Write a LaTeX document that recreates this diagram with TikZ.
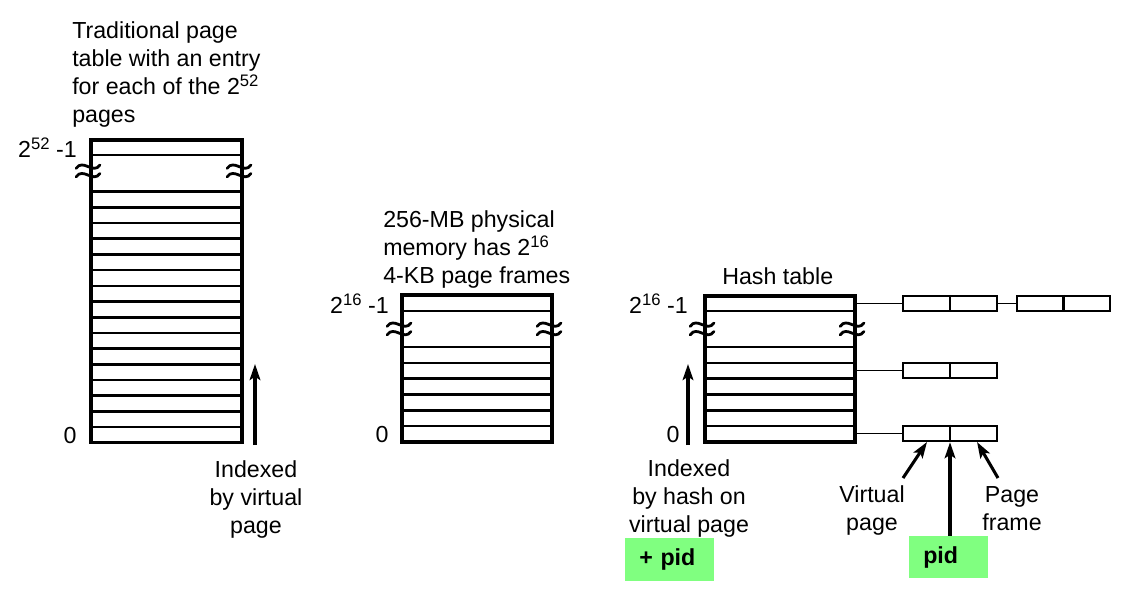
\documentclass[tikz,border=0pt]{standalone}
\usepackage{fontspec}
\setmainfont{Liberation Sans}
\usetikzlibrary{arrows.meta}
\definecolor{pidgreen}{RGB}{128,255,128}
\newcommand\mysup[1]{\raisebox{0.33em}{\fontsize{12.5}{12.5}\selectfont #1}}
\tikzset{
  tbl/.style={line width=2.4pt},
  rowline/.style={line width=2pt},
  cell/.style={draw, line width=1.8pt, inner sep=0pt, minimum height=11.25pt},
  cellline/.style={line width=1.8pt},
  link/.style={line width=1.4pt},
  uparrow/.style={line width=2.3pt, -{Stealth[length=12pt,width=8pt,inset=2.5pt]}},
  lbl/.style={inner sep=0pt, align=left, anchor=base west},
  clbl/.style={inner sep=0pt, align=center, anchor=base},
  idx/.style={inner sep=0pt, anchor=base east},
  zero/.style={inner sep=0pt, anchor=base},
  greenbox/.style={fill=pidgreen, inner ysep=0pt, inner xsep=10.5pt, align=left, anchor=west, font=\fontsize{17.4}{21}\selectfont\bfseries},
  brk/.pic={
    \draw[line width=2.1pt, line cap=round] (-12,-2.5) .. controls (-5,-13) and (5,4) .. (12,-6);
    \draw[line width=2.1pt, line cap=round] (-12,6) .. controls (-5,-4.5) and (5,12.5) .. (12,2.5);
  }
}
\begin{document}
\begin{tikzpicture}[x=0.75pt, y=-0.75pt, font=\fontsize{17.4}{21}\selectfont]
\useasboundingbox (0,0) rectangle (1137,604);

% ---------- traditional page table ----------
\draw[tbl] (91,140) rectangle (242,442.7);
\draw[rowline] (91,155) -- (242,155);
\foreach \i in {0,...,15} \draw[rowline] (91,{191.7+\i*15.69}) -- (242,{191.7+\i*15.69});
\pic at (88,171) {brk};
\pic at (239,171) {brk};
\node[lbl] (t1) at (72,122) {Traditional page\\table with an entry\\for each of the 2\mysup{52}\\pages};
\node[idx] (l1) at (77,157) {2\mysup{52} -1};
\node[zero] (z1) at (70,443) {0};
\coordinate (a1s) at (255,445);
\coordinate (a1e) at (255,364);
\draw[uparrow] (a1s) -- (a1e);
\node[clbl] (t4) at (256,533) {Indexed\\by virtual\\page};

% ---------- physical memory ----------
\draw[tbl] (402,295) rectangle (552,442);
\draw[rowline] (402,311) -- (552,311);
\foreach \i in {0,...,5} \draw[rowline] (402,{347+\i*15.83}) -- (552,{347+\i*15.83});
\pic at (399,329) {brk};
\pic at (549,329) {brk};
\node[lbl] (t2) at (383,283) {256-MB physical\\memory has 2\mysup{16}\\4-KB page frames};
\node[idx] (l2) at (389,313) {2\mysup{16} -1};
\node[zero] (z2) at (382,442) {0};

% ---------- hash table ----------
\draw[tbl] (705,296) rectangle (855,442);
\draw[rowline] (705,311) -- (855,311);
\foreach \i in {0,...,5} \draw[rowline] (705,{347+\i*15.83}) -- (855,{347+\i*15.83});
\pic at (702,329) {brk};
\pic at (852,329) {brk};
\node[lbl] (t3) at (722,284) {Hash table};
\node[idx] (l3) at (688,313) {2\mysup{16} -1};
\node[zero] (z3) at (673,442) {0};
\coordinate (a2s) at (688,445);
\coordinate (a2e) at (688,364);
\draw[uparrow] (a2s) -- (a2e);
\node[clbl] (t5) at (689,532) {Indexed\\by hash on\\virtual page};

% ---------- chain entries ----------
\node[cell, minimum width=70.5pt] (e1) at (950,303.5) {};
\node[cell, minimum width=69.75pt] (e2) at (1063.5,303.5) {};
\node[cell, minimum width=70.5pt] (e3) at (950,370.5) {};
\node[cell, minimum width=70.5pt] (e4) at (950,433.5) {};
\foreach \e in {e1,e2,e3,e4} \draw[cellline] (\e.north) -- (\e.south);
\coordinate (h15) at (855,303.5);
\coordinate (h4) at (855,370.5);
\coordinate (h0) at (855,433.5);
\draw[link] (h15) -- (e1.west);
\draw[link] (e1.east) -- (e2.west);
\draw[link] (h4) -- (e3.west);
\draw[link] (h0) -- (e4.west);

% ---------- field labels ----------
\node[clbl] (t6) at (872,530) {Virtual\\page};
\node[clbl] (t7) at (1012,530) {Page\\frame};
\coordinate (v0) at (903,478);
\coordinate (v1) at (927,442);
\coordinate (p0) at (998,478);
\coordinate (p1) at (977,442);
\draw[uparrow] (v0) -- (v1);
\draw[uparrow] (p0) -- (p1);

% ---------- green pid boxes ----------
\node[greenbox, text width=45.75pt, minimum height=32.25pt] (plus) at (625,559.5) {+ pid};
\node[greenbox, text width=38.25pt, minimum height=31.5pt] (pid) at (909,557) {pid};
\draw[uparrow] (pid.north -| e4) -- (e4.south);
\end{tikzpicture}
\end{document}
